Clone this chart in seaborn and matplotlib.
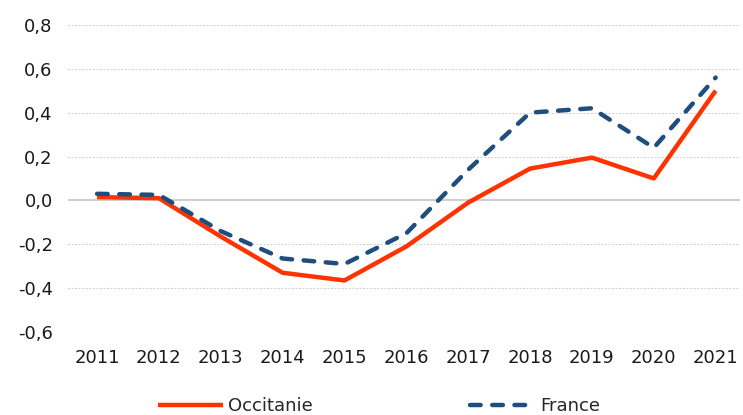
import matplotlib
matplotlib.use("Agg")
import matplotlib.pyplot as plt
import seaborn as sns
import pandas as pd
from matplotlib.ticker import FuncFormatter, MultipleLocator
from matplotlib.lines import Line2D

years = [2011, 2012, 2013, 2014, 2015, 2016, 2017, 2018, 2019, 2020, 2021]
occitanie = [0.015, 0.01, -0.165, -0.33, -0.365, -0.21, -0.01, 0.145, 0.195, 0.10, 0.50]
france = [0.03, 0.025, -0.14, -0.265, -0.29, -0.15, 0.14, 0.40, 0.42, 0.24, 0.56]
series_names = ["Occitanie", "France"]
colors = {"Occitanie": "#FF3300", "France": "#1F4E7E"}

df = pd.DataFrame({
    "year": years * 2,
    "value": occitanie + france,
    "serie": [series_names[0]] * len(years) + [series_names[1]] * len(years),
})

sns.set_theme(style="white")
plt.rcParams["font.family"] = ["DejaVu Sans"]
plt.rcParams["lines.dash_capstyle"] = "round"
plt.rcParams["lines.solid_capstyle"] = "butt"

fig = plt.figure(figsize=(7.43, 4.15), dpi=100)
ax = fig.add_axes([0.0915, 0.2, 0.905, 0.74])

sns.lineplot(data=df, x="year", y="value", hue="serie", style="serie",
             palette=colors, dashes={"Occitanie": "", "France": (2.4, 2.6)},
             linewidth=3.2, ax=ax, legend=False)

ax.set_ylim(-0.6, 0.8)
ax.set_xlim(2010.53, 2021.4)
ax.yaxis.set_major_locator(MultipleLocator(0.2))
ax.set_xticks(years)
ax.yaxis.set_major_formatter(FuncFormatter(lambda v, p: f"{v:.1f}".replace(".", ",").replace("-0,0", "0,0")))
ax.grid(axis="y", linestyle=(0, (1, 2.2)), color="#CFCFCF", linewidth=0.8)
ax.axhline(0, color="#D0D0D0", linewidth=1.5, zorder=1)
for s in ax.spines.values():
    s.set_visible(False)
ax.tick_params(axis="both", labelsize=13, length=0, colors="#1a1a1a")
ax.tick_params(axis="x", pad=12)
ax.tick_params(axis="y", pad=11)
ax.set_xlabel("")
ax.set_ylabel("")
for line in ax.get_lines():
    line.set_clip_on(False)

handles = [Line2D([], [], color=colors["Occitanie"], lw=3.2),
           Line2D([], [], color=colors["France"], lw=3.2, dashes=(2.4, 2.6), dash_capstyle="round")]
fig.legend(handles, series_names, loc="lower center", bbox_to_anchor=(0.51, -0.04), ncol=2,
           frameon=False, fontsize=13, handlelength=3.6, columnspacing=8.7, handletextpad=0.3)

fig.savefig("out.png", dpi=100)
